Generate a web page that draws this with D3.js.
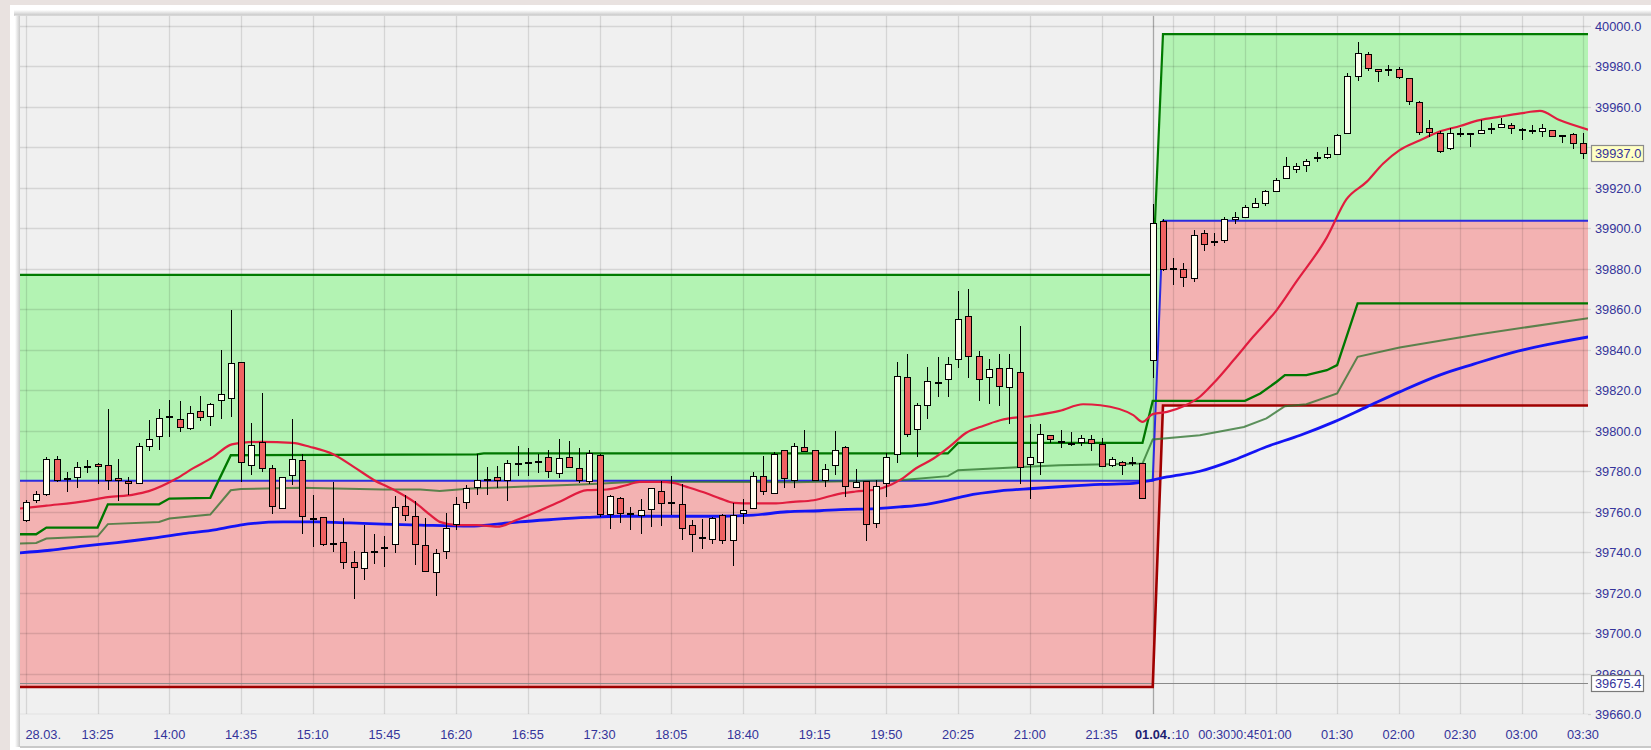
<!DOCTYPE html>
<html>
<head>
<meta charset="utf-8">
<script src="https://cdn.jsdelivr.net/npm/d3@7"></script>
<style>
  html, body { margin: 0; padding: 0; background: #e9e2e0; overflow: hidden; }
  svg { display: block; font-family: "Liberation Sans", Arial, sans-serif; }
</style>
</head>
<body>
<svg id="graph" width="1651" height="750"></svg>
<script>
// 5 min candles: 28.03. 12:50 .. 21:55 (bars 0-109), 01.04. 00:00 .. 03:30 (bars 110-152)
var open = [
  39755.8, 39766.0, 39768.7, 39786.1, 39776.6, 39777.2, 39782.5, 39783.7, 39783.0, 39776.6,
  39775.4, 39774.3, 39792.6, 39797.3, 39807.2, 39805.6, 39801.6, 39809.7, 39807.4, 39815.1,
  39816.4, 39834.0, 39783.0, 39794.4, 39781.4, 39762.1, 39778.4, 39785.5, 39756.8, 39757.5,
  39744.8, 39745.1, 39735.3, 39732.0, 39740.5, 39742.7, 39744.0, 39762.9, 39758.0, 39743.8,
  39730.3, 39740.5, 39753.9, 39764.6, 39772.3, 39776.4, 39777.2, 39775.6, 39784.3, 39784.6,
  39785.1, 39786.8, 39778.9, 39787.1, 39781.4, 39775.3, 39787.9, 39759.1, 39767.0, 39759.4,
  39758.6, 39761.3, 39770.3, 39764.9, 39763.6, 39753.7, 39747.6, 39746.8, 39758.6, 39745.9,
  39759.4, 39762.1, 39777.7, 39769.3, 39790.7, 39775.9, 39792.1, 39790.7, 39775.9, 39783.0,
  39792.1, 39772.3, 39775.1, 39754.7, 39774.3, 39788.4, 39826.3, 39800.8, 39812.6, 39824.0,
  39825.5, 39835.4, 39856.6, 39837.0, 39826.3, 39831.2, 39821.7, 39829.1, 39783.8, 39784.6,
  39798.1, 39794.9, 39794.0, 39794.5, 39795.8, 39793.7, 39783.3, 39784.6, 39784.6, 39784.3,
  39834.9, 39903.5, 39880.5, 39879.7, 39875.2, 39897.4, 39893.8, 39894.1, 39904.5, 39905.7,
  39910.6, 39912.3, 39918.5, 39924.6, 39929.4, 39931.2, 39935.3, 39935.3, 39936.5, 39947.2,
  39975.2, 39985.9, 39978.6, 39978.5, 39978.6, 39974.3, 39962.5, 39949.6, 39946.8, 39939.4,
  39947.2, 39946.9, 39947.2, 39949.6, 39950.0, 39951.0, 39948.8, 39948.5, 39948.0, 39948.5,
  39946.0, 39946.3, 39941.9];
var high = [
  39765.7, 39770.3, 39786.8, 39787.4, 39779.7, 39784.5, 39785.5, 39784.0, 39810.5, 39786.1,
  39777.2, 39794.0, 39805.2, 39810.5, 39815.1, 39814.6, 39812.3, 39817.1, 39813.8, 39839.8,
  39859.6, 39834.0, 39803.6, 39818.4, 39783.0, 39777.2, 39805.7, 39788.3, 39768.5, 39757.5,
  39774.8, 39756.7, 39740.5, 39753.4, 39748.9, 39747.9, 39767.9, 39768.2, 39765.4, 39756.7,
  39741.8, 39759.5, 39767.4, 39773.1, 39788.3, 39781.9, 39782.7, 39785.5, 39792.5, 39791.6,
  39788.4, 39790.7, 39795.8, 39795.0, 39791.6, 39790.4, 39788.4, 39768.5, 39767.4, 39762.4,
  39766.5, 39771.8, 39775.1, 39777.9, 39773.5, 39755.8, 39756.2, 39757.5, 39759.1, 39764.1,
  39766.5, 39779.7, 39787.4, 39789.6, 39790.7, 39794.0, 39800.3, 39790.7, 39783.8, 39799.8,
  39792.4, 39780.9, 39775.1, 39775.6, 39788.8, 39834.0, 39837.7, 39813.8, 39831.6, 39836.5,
  39836.5, 39869.1, 39869.8, 39839.5, 39835.4, 39837.7, 39837.7, 39851.8, 39803.3, 39803.3,
  39798.1, 39800.3, 39799.5, 39797.8, 39798.1, 39796.2, 39787.1, 39785.1, 39786.8, 39784.3,
  39911.9, 39904.5, 39885.1, 39882.6, 39899.1, 39899.1, 39897.4, 39905.7, 39907.8, 39911.4,
  39914.7, 39918.8, 39924.6, 39935.3, 39932.0, 39934.0, 39937.8, 39940.3, 39946.5, 39976.8,
  39991.8, 39987.2, 39978.6, 39980.6, 39979.8, 39974.3, 39962.8, 39953.4, 39948.0, 39949.6,
  39949.3, 39946.9, 39953.4, 39952.1, 39954.3, 39952.1, 39949.3, 39950.9, 39951.4, 39948.5,
  39946.0, 39946.8, 39946.8];
var low = [
  39755.0, 39764.1, 39767.7, 39774.8, 39769.8, 39771.8, 39778.9, 39773.5, 39770.6, 39765.4,
  39768.2, 39773.5, 39790.1, 39790.7, 39796.7, 39799.5, 39800.3, 39804.9, 39802.4, 39805.6,
  39806.9, 39774.8, 39778.1, 39779.7, 39759.1, 39761.6, 39773.1, 39749.2, 39742.7, 39743.0,
  39739.9, 39731.5, 39717.1, 39726.5, 39734.4, 39732.5, 39739.4, 39755.3, 39733.9, 39730.3,
  39718.4, 39736.9, 39750.9, 39761.6, 39768.2, 39768.2, 39771.8, 39765.4, 39777.6, 39777.9,
  39778.9, 39776.8, 39776.8, 39781.4, 39774.4, 39773.5, 39757.5, 39751.6, 39754.7, 39750.9,
  39749.2, 39752.5, 39753.2, 39758.3, 39746.3, 39740.2, 39741.5, 39744.3, 39744.3, 39733.1,
  39753.9, 39761.6, 39768.2, 39769.0, 39771.8, 39771.8, 39789.3, 39775.1, 39772.3, 39778.1,
  39767.4, 39772.0, 39745.6, 39752.0, 39767.4, 39784.3, 39797.0, 39787.1, 39805.6, 39816.8,
  39816.8, 39830.8, 39826.1, 39814.8, 39813.1, 39812.3, 39803.3, 39773.5, 39766.5, 39778.4,
  39794.0, 39791.7, 39792.4, 39792.4, 39790.1, 39781.9, 39781.9, 39778.1, 39782.5, 39766.2,
  39826.1, 39879.0, 39871.9, 39870.8, 39873.6, 39888.9, 39891.2, 39892.5, 39902.1, 39904.9,
  39910.3, 39911.1, 39918.0, 39924.1, 39927.4, 39927.6, 39932.5, 39934.0, 39936.1, 39946.8,
  39972.7, 39977.8, 39972.0, 39975.2, 39973.5, 39960.8, 39946.0, 39945.2, 39937.0, 39938.6,
  39944.9, 39940.3, 39946.9, 39946.5, 39949.3, 39946.5, 39943.5, 39946.5, 39944.9, 39944.9,
  39941.9, 39939.0, 39934.0];
var close = [
  39764.6, 39768.7, 39786.1, 39775.6, 39776.6, 39782.2, 39782.5, 39782.5, 39775.6, 39775.6,
  39774.3, 39792.6, 39796.0, 39806.1, 39807.2, 39801.9, 39809.0, 39806.9, 39813.3, 39818.1,
  39833.5, 39784.5, 39793.2, 39781.4, 39762.9, 39777.2, 39786.1, 39758.0, 39756.8, 39744.0,
  39744.8, 39735.3, 39732.8, 39739.9, 39740.5, 39742.7, 39762.4, 39758.3, 39744.0, 39730.8,
  39739.7, 39752.2, 39763.6, 39771.8, 39775.9, 39776.4, 39775.6, 39784.3, 39784.3, 39784.6,
  39785.1, 39780.0, 39786.6, 39782.2, 39775.6, 39788.8, 39759.1, 39767.7, 39759.4, 39759.4,
  39761.1, 39771.5, 39764.1, 39764.9, 39752.2, 39749.2, 39747.6, 39756.7, 39746.3, 39758.6,
  39761.1, 39777.7, 39770.2, 39788.4, 39776.9, 39792.4, 39790.1, 39775.6, 39781.2, 39790.7,
  39772.6, 39774.8, 39754.2, 39772.8, 39787.1, 39827.0, 39798.6, 39812.6, 39824.5, 39824.0,
  39833.2, 39855.4, 39837.0, 39825.8, 39830.4, 39822.2, 39830.8, 39782.2, 39786.8, 39798.6,
  39796.0, 39794.9, 39794.0, 39796.5, 39794.0, 39782.5, 39786.0, 39783.3, 39784.6, 39767.0,
  39902.4, 39879.7, 39880.5, 39876.0, 39896.6, 39892.0, 39893.8, 39904.5, 39905.7, 39910.6,
  39912.6, 39918.4, 39923.8, 39930.7, 39930.9, 39933.3, 39935.3, 39936.5, 39946.0, 39975.2,
  39986.4, 39979.3, 39977.6, 39978.5, 39974.5, 39962.8, 39947.3, 39947.7, 39938.3, 39946.8,
  39947.2, 39946.5, 39948.5, 39949.6, 39951.3, 39949.6, 39948.8, 39948.5, 39949.3, 39945.7,
  39946.0, 39941.9, 39937.0];

// x axis: bar index of every grid line and its label (level 0 = small, 2 = date)
var tickBar   = [0, 7, 14, 21, 28, 35, 42, 49, 56, 63, 70, 77, 84, 91, 98, 105,
                 110, 112, 116, 119, 122, 128, 134, 140, 146, 152];
var tickLabel = ["28.03.", "13:25", "14:00", "14:35", "15:10", "15:45", "16:20", "16:55",
                 "17:30", "18:05", "18:40", "19:15", "19:50", "20:25", "21:00", "21:35",
                 "01.04.", "00:10", "00:30", "00:45", "01:00", "01:30", "02:00", "02:30",
                 "03:00", "03:30"];
var tickLevel = [2, 1, 1, 1, 1, 1, 1, 1, 1, 1, 1, 1, 1, 1, 1, 1,
                 2, 0, 1, 0, 1, 1, 1, 1, 1, 1];
var yTicks = d3.range(39660, 40001, 20);

// session zones (day 1, day 2): top / middle / bottom level
var zoneTop    = [39877.0, 39995.8];
var zoneMid    = [39775.3, 39903.7];
var zoneBottom = [39673.5, 39812.5];
var zoneSwitch = [110, 111]; // old levels still on bar 110, new ones from bar 111

// indicator lines (bar position, price)
var redBar = [-0.6, 0, 2, 6, 8, 10.5, 12, 14.7, 16.3, 18.3, 19.9, 21, 23, 26, 27.7, 30, 32, 34, 36, 38,
  39.5, 40.4, 42.1, 44, 46, 47.9, 49.9, 52.1, 54.8, 56.7, 58.6, 59.9, 61.9, 63.2, 64.5, 66.5, 67.8,
  69.1, 71, 73, 74.9, 76.9, 79.5, 81, 83, 84.5, 85.3, 86.9, 88.6, 90.2, 91.8, 93.5, 95.1, 98.3,
  100.9, 103.2, 104.9, 108.1, 109, 110, 111.4, 113, 114.6, 115.9, 117.9, 119.8, 122.1, 124, 127,
  128.9, 130.9, 132.5, 134.1, 136.1, 138, 140, 141.9, 143.9, 145.9, 147.8, 149.7, 152.5];
var redVal = [39761.6, 39761.9, 39763.0, 39765.4, 39767.2, 39768.5, 39770.2, 39776.4, 39781.4, 39787.1,
  39792.9, 39794.0, 39794.5, 39794.0, 39792.1, 39788.4, 39782.2, 39775.6, 39770.6, 39764.5,
  39758.3, 39755.0, 39753.4, 39753.4, 39752.6, 39755.9, 39760.0, 39764.9, 39770.7, 39771.0,
  39773.1, 39774.8, 39774.8, 39774.3, 39772.3, 39769.0, 39766.5, 39764.4, 39764.1, 39764.1,
  39764.9, 39765.7, 39769.0, 39770.0, 39771.0, 39773.5, 39775.6, 39781.5, 39786.3, 39792.3,
  39799.0, 39802.5, 39805.2, 39807.4, 39809.8, 39813.1, 39812.6, 39807.7, 39804.4, 39808.2,
  39809.3, 39812.1, 39816.8, 39823.3, 39834.9, 39846.4, 39859.6, 39873.5, 39895.5, 39914.2,
  39923.0, 39932.0, 39938.6, 39943.5, 39947.7, 39950.5, 39953.4, 39955.1, 39956.7, 39957.9,
  39953.4, 39948.7];
var blueBar = [-0.6, 2.35, 5.6, 8.9, 12.1, 15.4, 18.6, 20.9, 25.1, 28.4, 31.6, 34.9, 38.5, 43.4, 46,
  48.2, 51.5, 54.8, 58, 67.8, 71, 74.3, 77.5, 79.5, 83, 85.3, 87.9, 90.2, 91.8, 95.1, 98.3, 101.6,
  104.9, 108.1, 109.4, 111.4, 114.6, 117.9, 121.1, 124.4, 127.7, 130.9, 134.1, 138, 141.4, 145,
  148.5, 152.5];
var blueVal = [39739.7, 39741.0, 39743.0, 39744.8, 39746.8, 39749.2, 39751.2, 39753.4, 39755.0, 39755.0,
  39754.5, 39753.9, 39753.4, 39752.9, 39753.9, 39755.0, 39756.2, 39757.2, 39757.8, 39757.8,
  39758.3, 39760.0, 39760.5, 39761.1, 39761.6, 39762.4, 39763.7, 39766.0, 39767.9, 39770.3,
  39771.5, 39772.6, 39773.5, 39774.0, 39775.1, 39777.2, 39780.0, 39785.5, 39792.1, 39797.8,
  39804.4, 39811.8, 39819.2, 39827.5, 39833.0, 39838.5, 39842.5, 39846.3];
var stepBar = [-0.6, 1, 2, 7, 8, 13, 14, 18, 20, 44, 44.7, 90, 91, 109, 110, 119, 120.5, 122.1,
  122.9, 125, 127, 128, 130, 152.5];
var stepVal = [39748.9, 39748.9, 39752.2, 39752.2, 39763.7, 39763.7, 39766.5, 39766.9, 39787.9, 39788.3,
  39788.8, 39788.8, 39794.0, 39794.0, 39814.8, 39814.8, 39818.4, 39824.2, 39827.5, 39827.5,
  39829.9, 39832.4, 39862.9, 39862.9];
var oliveBar = [-0.6, 1, 2, 7, 8, 13, 14, 18, 20, 21, 26.8, 34.9, 38.5, 40.4, 43.4, 48.2, 51.5, 54.8,
  58.6, 62, 75, 85.3, 90, 91, 100.9, 109, 110, 114.6, 118.9, 121.1, 122.9, 125, 128, 130, 134.1,
  141.4, 152.5];
var oliveVal = [39744.3, 39744.6, 39746.8, 39747.9, 39753.9, 39755.0, 39756.7, 39758.6, 39770.6, 39771.3,
  39771.8, 39771.0, 39771.0, 39770.3, 39771.5, 39772.3, 39773.0, 39773.6, 39774.6, 39774.8,
  39774.6, 39775.6, 39777.6, 39780.5, 39783.0, 39783.8, 39795.7, 39797.8, 39801.9, 39806.1,
  39812.1, 39813.1, 39818.4, 39836.5, 39841.1, 39847.3, 39855.6];

var lastPrice = 39937.0;
var markPrice = 39675.4;

function creaGrafica() {
    var svg = d3.select("#graph");
    var W = +svg.attr("width"), H = +svg.attr("height");
    var left = 20, right = 1588, top = 15.7;

    // bar index -> pixel, price -> pixel
    var x = d3.scaleLinear().domain([-0.576, 152.49]).range([left, right]);
    var y = d3.scaleLinear().domain([39660, 40000]).range([714.3, 25.7]);
    var bottom = y(39660);

    var defs = svg.append("defs");
    defs.append("clipPath").attr("id", "clip")
        .append("rect").attr("x", left).attr("y", top)
        .attr("width", right - left).attr("height", bottom - top);
    var gTop = defs.append("linearGradient").attr("id", "shTop")
        .attr("x1", 0).attr("y1", 0).attr("x2", 0).attr("y2", 1);
    gTop.append("stop").attr("offset", "0%").attr("stop-color", "#ffffff");
    gTop.append("stop").attr("offset", "100%").attr("stop-color", "#c4c4c4");
    var gLeft = defs.append("linearGradient").attr("id", "shLeft")
        .attr("x1", 0).attr("y1", 0).attr("x2", 1).attr("y2", 0);
    gLeft.append("stop").attr("offset", "0%").attr("stop-color", "#ffffff");
    gLeft.append("stop").attr("offset", "100%").attr("stop-color", "#c8c8c8");

    // panel + chart background
    svg.append("rect").attr("width", W).attr("height", H).attr("fill", "#e9e2e0");
    svg.append("rect").attr("x", 10).attr("y", 5).attr("width", W - 10).attr("height", H - 5).attr("fill", "#ffffff");
    svg.append("rect").attr("x", left).attr("y", top).attr("width", W - left).attr("height", 747 - top).attr("fill", "#f0f0f0");
    svg.append("rect").attr("x", 14).attr("y", 10).attr("width", W - 14).attr("height", top - 10).attr("fill", "url(#shTop)");
    svg.append("rect").attr("x", 15).attr("y", top).attr("width", left - 15).attr("height", 747 - top).attr("fill", "url(#shLeft)");
    svg.append("rect").attr("x", left).attr("y", 746).attr("width", W - left).attr("height", 2).attr("fill", "#c9c9c9");

    var g = svg.append("g").attr("clip-path", "url(#clip)");
    var d0 = x.domain()[0], d1 = x.domain()[1];

    // level polyline for a zone: old value up to bar 110, new value from bar 111
    function zonePts(vals) {
        return [[d0, vals[0]], [zoneSwitch[0], vals[0]], [zoneSwitch[1], vals[1]], [d1, vals[1]]];
    }
    var topPts = zonePts(zoneTop), midPts = zonePts(zoneMid), botPts = zonePts(zoneBottom);

    var area = d3.area().x(d => x(d[0])).y0(d => y(d[1])).y1(d => y(d[2]));
    g.append("path")
        .attr("d", area(topPts.map((p, k) => [p[0], midPts[k][1], p[1]])))
        .attr("fill", "#b3f3b3");
    g.append("path")
        .attr("d", area(midPts.map((p, k) => [p[0], botPts[k][1], p[1]])))
        .attr("fill", "#f3b2b2");

    // grid
    g.append("g").selectAll("line").data(yTicks).enter().append("line")
        .attr("x1", left).attr("x2", right)
        .attr("y1", d => Math.round(y(d)) + 0.5).attr("y2", d => Math.round(y(d)) + 0.5)
        .attr("stroke", "rgba(0,0,0,0.11)").attr("stroke-width", 1.3);
    g.append("g").selectAll("line").data(tickBar).enter().append("line")
        .attr("x1", d => Math.round(x(d)) + 0.5).attr("x2", d => Math.round(x(d)) + 0.5)
        .attr("y1", top).attr("y2", bottom)
        .attr("stroke", (d, i) => tickLabel[i] == "01.04." ? "rgba(0,0,0,0.3)" : "rgba(0,0,0,0.11)")
        .attr("stroke-width", 1.3);
    // right part of the grid sticks out under the axis
    svg.append("g").selectAll("line").data(yTicks).enter().append("line")
        .attr("x1", right).attr("x2", 1591)
        .attr("y1", d => Math.round(y(d)) + 0.5).attr("y2", d => Math.round(y(d)) + 0.5)
        .attr("stroke", "rgba(0,0,0,0.11)").attr("stroke-width", 1.3);

    // marker line
    g.append("line")
        .attr("x1", left).attr("x2", right)
        .attr("y1", Math.round(y(markPrice)) + 0.5).attr("y2", Math.round(y(markPrice)) + 0.5)
        .attr("stroke", "#8a8a8a").attr("stroke-width", 1);

    var line = d3.line().x(d => x(d[0])).y(d => y(d[1]));
    g.append("path").attr("d", line(topPts)).attr("fill", "none").attr("stroke", "#007a00").attr("stroke-width", 2.2);
    g.append("path").attr("d", line(midPts)).attr("fill", "none").attr("stroke", "#2b2be0").attr("stroke-width", 2);
    g.append("path").attr("d", line(botPts)).attr("fill", "none").attr("stroke", "#a00000").attr("stroke-width", 2.6);

    // indicators
    var smooth = d3.line().x(d => x(d[0])).y(d => y(d[1])).curve(d3.curveMonotoneX);
    g.append("path").attr("d", line(d3.zip(oliveBar, oliveVal)))
        .attr("fill", "none").attr("stroke", "#2a702a").attr("stroke-opacity", 0.75).attr("stroke-width", 2);
    g.append("path").attr("d", line(d3.zip(stepBar, stepVal)))
        .attr("fill", "none").attr("stroke", "#007700").attr("stroke-width", 2.3);
    g.append("path").attr("d", smooth(d3.zip(blueBar, blueVal)))
        .attr("fill", "none").attr("stroke", "#1414f5").attr("stroke-width", 2.8);
    g.append("path").attr("d", smooth(d3.zip(redBar, redVal)))
        .attr("fill", "none").attr("stroke", "#e11d3f").attr("stroke-width", 2.2);

    // candles
    var bars = d3.range(open.length).map(i => ({ i: i, o: open[i], h: high[i], l: low[i], c: close[i] }));
    var cg = g.append("g").selectAll("g").data(bars).enter().append("g");
    cg.append("line")
        .attr("x1", d => Math.round(x(d.i)) + 0.5).attr("x2", d => Math.round(x(d.i)) + 0.5)
        .attr("y1", d => Math.round(y(d.h))).attr("y2", d => Math.round(y(d.l)))
        .attr("stroke", "#000").attr("stroke-width", 1);
    cg.append("rect")
        .attr("x", d => Math.round(x(d.i)) - 2.5)
        .attr("y", d => Math.round(y(Math.max(d.o, d.c))) + 0.5)
        .attr("width", 6)
        .attr("height", d => Math.max(1, Math.round(y(Math.min(d.o, d.c))) - Math.round(y(Math.max(d.o, d.c)))))
        .attr("fill", d => d.c >= d.o ? "#fffff0" : "#f06262")
        .attr("stroke", "#000").attr("stroke-width", 1);

    // y axis on the right, the label right under the last price box is left out
    var yAxis = svg.append("g").attr("class", "yaxis")
        .attr("transform", "translate(1595,0)")
        .call(d3.axisRight(y).tickValues(yTicks.filter(v => Math.abs(y(v) - y(lastPrice)) > 8))
            .tickFormat(d3.format(".1f")).tickSize(0).tickPadding(0));
    yAxis.select(".domain").remove();
    yAxis.attr("font-family", null).attr("font-size", null);
    yAxis.selectAll("text").attr("fill", "#34349a").style("font-size", "12.8px").attr("dy", "0.36em");

    // price boxes
    function priceBox(v, bg, border) {
        var yy = Math.round(y(v));
        svg.append("rect").attr("x", 1591.5).attr("y", yy - 7.5).attr("width", 52).attr("height", 16)
            .attr("fill", bg).attr("stroke", border).attr("stroke-width", 1.2);
        svg.append("text").attr("x", 1595).attr("y", yy).attr("dy", "0.36em")
            .attr("fill", "#34349a").style("font-size", "12.8px").text(d3.format(".1f")(v));
    }
    priceBox(lastPrice, "#ffffc4", "#8c8c8c");
    priceBox(markPrice, "#ffffff", "#7a7a7a");

    // x axis labels, small ones first so the others cover them
    var order = d3.range(tickBar.length).sort((a, b) => tickLevel[a] - tickLevel[b] || a - b);
    var xg = svg.append("g");
    order.forEach(function (k) {
        var lg = xg.append("g");
        var t = lg.append("text")
            .attr("x", k == 0 ? x(tickBar[k]) - 0.5 : x(tickBar[k]))
            .attr("y", 738.5)
            .attr("text-anchor", k == 0 ? "start" : "middle")
            .attr("fill", tickLevel[k] == 2 && k > 0 ? "#1e1e70" : "#34349a")
            .style("font-size", "12.8px")
            .style("font-weight", tickLevel[k] == 2 && k > 0 ? "bold" : "normal")
            .text(tickLabel[k]);
        var bb = t.node().getBBox();
        lg.insert("rect", "text").attr("x", bb.x - 1).attr("y", bb.y).attr("width", bb.width + 2)
            .attr("height", bb.height).attr("fill", "#f0f0f0");
    });
}

creaGrafica();
</script>
</body>
</html>
